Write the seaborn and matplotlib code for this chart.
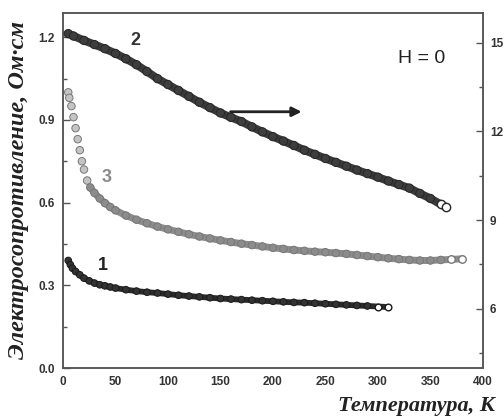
import seaborn as sns
import matplotlib.pyplot as plt

# curve 1 (left axis, Ohm*cm)
t1 = [5, 7, 9, 12, 16, 20, 25, 30, 35, 40, 45, 50, 60, 70, 80, 90, 100, 110, 120, 130,
      140, 150, 160, 170, 180, 190, 200, 210, 220, 230, 240, 250, 260, 270, 280, 290, 300, 310]
r1 = [0.390, 0.375, 0.362, 0.350, 0.338, 0.326, 0.316, 0.308, 0.302, 0.298, 0.294, 0.290,
      0.284, 0.279, 0.275, 0.272, 0.268, 0.264, 0.261, 0.258, 0.255, 0.252, 0.250, 0.248,
      0.246, 0.244, 0.242, 0.240, 0.238, 0.237, 0.235, 0.233, 0.231, 0.229, 0.227, 0.225,
      0.223, 0.221]

# curve 3 (left axis)
t3 = [5, 6, 8, 10, 12, 14, 16, 18, 20, 23, 26, 30, 35, 40, 45, 50, 60, 70, 80, 90, 100,
      110, 120, 130, 140, 150, 160, 170, 180, 190, 200, 210, 220, 230, 240, 250, 260, 270,
      280, 290, 300, 310, 320, 330, 340, 350, 360, 370, 380]
r3 = [1.000, 0.980, 0.950, 0.910, 0.870, 0.830, 0.790, 0.750, 0.720, 0.680, 0.655, 0.635,
      0.615, 0.598, 0.584, 0.572, 0.553, 0.538, 0.525, 0.513, 0.503, 0.494, 0.485, 0.477,
      0.470, 0.463, 0.457, 0.451, 0.446, 0.441, 0.436, 0.432, 0.428, 0.425, 0.422, 0.420,
      0.417, 0.414, 0.410, 0.406, 0.402, 0.398, 0.395, 0.392, 0.390, 0.390, 0.392, 0.394,
      0.396]

# curve 2 (right axis)
t2 = [5, 10, 20, 30, 40, 50, 60, 70, 80, 90, 100, 110, 120, 130, 140, 150, 160, 170, 180,
      190, 200, 210, 220, 230, 240, 250, 260, 270, 280, 290, 300, 310, 320, 330, 340, 350,
      360, 365]
r2 = [15.30, 15.22, 15.07, 14.93, 14.79, 14.63, 14.45, 14.25, 14.02, 13.78, 13.58, 13.38,
      13.18, 12.98, 12.80, 12.62, 12.47, 12.33, 12.15, 11.98, 11.82, 11.67, 11.52, 11.36,
      11.22, 11.08, 10.95, 10.82, 10.69, 10.57, 10.45, 10.32, 10.20, 10.08, 9.90, 9.73,
      9.53, 9.44]

left_ticks = [0.0, 0.3, 0.6, 0.9, 1.2]
right_ticks = [6, 9, 12, 15]
x_ticks = [0, 50, 100, 150, 200, 250, 300, 350, 400]

sns.set_style("white")
plt.rcParams['font.family'] = ['Liberation Sans', 'DejaVu Sans']

fig = plt.figure(figsize=(5.04, 4.17), dpi=100)
ax = fig.add_axes([0.125, 0.1175, 0.833, 0.8515])
ax2 = ax.twinx()


def draw(a, t, r, band, face, edge, lw, ms, line_from=0, light='#cccccc'):
    # thick band through the dense part of the data
    tt = [v for v in t if v >= line_from]
    rr = [r[i] for i, v in enumerate(t) if v >= line_from]
    sns.lineplot(x=tt, y=rr, ax=a, color=band, lw=lw, zorder=3)
    # individual markers; sparse (steep) points look like open circles
    faces = [face if v >= line_from else light for v in t[:-2]]
    a.scatter(t[:-2], r[:-2], s=ms ** 2, c=faces, edgecolors=edge,
              linewidths=0.7, zorder=4)
    # last couple of points drawn as open circles
    sns.scatterplot(x=t[-2:], y=r[-2:], ax=a, s=ms ** 2, color='white',
                    edgecolor=edge, linewidth=1.0, zorder=5)


draw(ax, t3, r3, '#8c8c8c', '#8c8c8c', '#777777', 5.0, 5.4, line_from=26,
     light='#c4c4c4')
draw(ax, t1, r1, '#2a2a2a', '#333333', '#1a1a1a', 4.2, 4.8)
draw(ax2, t2, r2, '#3a3a3a', '#3e3e3e', '#262626', 5.8, 6.0)

ax.set_xlim(0, 400)
ax.set_ylim(0, 1.288)
ax2.set_ylim(4, 16)
ax.set_xticks(x_ticks)
ax.set_xticks([25 + 50 * i for i in range(8)], minor=True)
ax.set_yticks(left_ticks)
ax.set_yticklabels([f"{v:.1f}" for v in left_ticks])
ax.set_yticks([0.15, 0.45, 0.75, 1.05], minor=True)
ax2.set_yticks(right_ticks)
ax2.set_yticks([4.5, 7.5, 10.5, 13.5], minor=True)

for a in (ax, ax2):
    for s in a.spines.values():
        s.set_color('#555555')
        s.set_linewidth(1.1)
    a.tick_params(which='both', direction='in', color='#555555', width=1.0,
                  labelsize=8.5, labelcolor='#333333')
    a.tick_params(which='major', length=5)
    a.tick_params(which='minor', length=3)
    for lab in a.get_xticklabels() + a.get_yticklabels():
        lab.set_fontweight('bold')
ax.tick_params(axis='y', pad=6)
ax.tick_params(axis='x', pad=6)
ax2.tick_params(axis='y', pad=5)
ax.set_xlabel('')
ax.set_ylabel('')
ax2.set_ylabel('')

ax.text(68.6, 1.189, '2', fontsize=13, fontweight='bold', color='#333333',
        ha='center', va='center')
ax.text(42, 0.692, '3', fontsize=13, fontweight='bold', color='#888888',
        ha='center', va='center')
ax.text(38, 0.373, '1', fontsize=13, fontweight='bold', color='#222222',
        ha='center', va='center')
ax.text(342, 1.124, 'H = 0', fontsize=14, color='#222222', ha='center', va='center')

ax2.annotate('', xy=(230, 12.66), xytext=(157, 12.66),
             arrowprops=dict(arrowstyle='-|>', color='#222222', lw=2,
                             mutation_scale=14))

fig.text(0.036, 0.545, 'Электросопротивление, Ом·см', rotation=90,
         family=['Liberation Serif', 'DejaVu Serif'], fontsize=17.5,
         fontweight='bold', style='italic', ha='center', va='center', color='#222222')
fig.text(0.982, 0.026, 'Температура, К', family=['Liberation Serif', 'DejaVu Serif'],
         fontsize=16, fontweight='bold', style='italic', ha='right', va='center',
         color='#222222')

fig.savefig('out.png', dpi=100)
